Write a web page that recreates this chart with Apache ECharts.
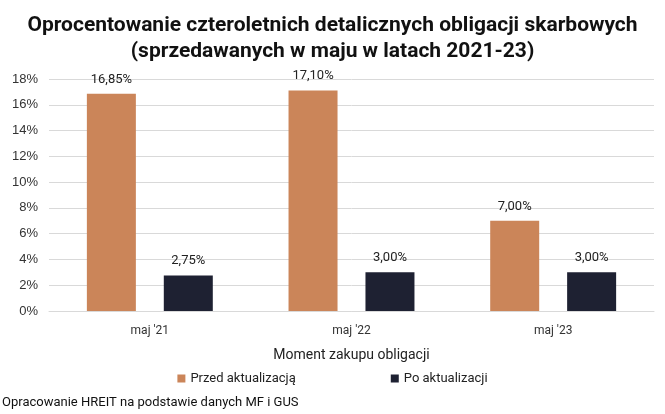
<!DOCTYPE html>
<html><head><meta charset="utf-8">
<script src="https://cdn.jsdelivr.net/npm/echarts@6/dist/echarts.min.js"></script>
<style>html,body{margin:0;padding:0;background:#fff}#c{width:665px;height:414px}</style>
</head><body><div id="c"></div>
<script>
const categories = ["maj '21", "maj '22", "maj '23"];
const przed = [16.85, 17.10, 7.00];
const po = [2.75, 3.00, 3.00];
const yTicks = [0, 2, 4, 6, 8, 10, 12, 14, 16, 18];
const seriesNames = ["Przed aktualizacją", "Po aktualizacji"];

const fmt = v => v.toFixed(2).replace('.', ',') + '%';
const chart = echarts.init(document.getElementById('c'));
const font = 'Roboto';
chart.setOption({
  animation: false,
  textStyle: {fontFamily: font},
  title: {
    text: 'Oprocentowanie czteroletnich detalicznych obligacji skarbowych\n(sprzedawanych w maju w latach 2021-23)',
    left: 'center', top: 8,
    textStyle: {fontFamily: font, fontSize: 21, fontWeight: 'bold', color: '#111', lineHeight: 26}
  },
  grid: {left: 49, right: 11, top: 79, bottom: 103},
  legend: {
    data: seriesNames, top: 367, left: 'center', itemWidth: 8, itemHeight: 8, itemGap: 95,
    icon: 'rect',
    textStyle: {fontFamily: font, fontSize: 13, color: '#222'}
  },
  graphic: [{type: 'text', left: 2, top: 396, style: {text: 'Opracowanie HREIT na podstawie danych MF i GUS', font: '13px Roboto', fill: '#111'}}],
  xAxis: {
    type: 'category', data: categories,
    name: 'Moment zakupu obligacji', nameLocation: 'middle', nameGap: 37,
    nameTextStyle: {fontFamily: font, fontSize: 14, color: '#222'},
    axisLine: {lineStyle: {color: '#d9d9d9'}}, axisTick: {show: false},
    axisLabel: {fontSize: 12, color: '#333', margin: 14}
  },
  yAxis: {
    type: 'value', min: yTicks[0], max: yTicks[yTicks.length-1], interval: 2,
    axisLabel: {formatter: v => v + '%', fontSize: 13, fontFamily: 'Liberation Sans', color: '#333', margin: 11},
    splitLine: {lineStyle: {color: '#d9d9d9'}}
  },
  series: [
    {name: seriesNames[0], type: 'bar', data: przed, barWidth: 49, barGap: '57%', itemStyle: {color: '#CB8559'},
     label: {show: true, position: 'top', formatter: p => fmt(p.value), fontSize: 13, color: '#222', distance: 8}},
    {name: seriesNames[1], type: 'bar', data: po, barWidth: 49, itemStyle: {color: '#1E2132'},
     label: {show: true, position: 'top', formatter: p => fmt(p.value), fontSize: 13, color: '#222', distance: 8}}
  ]
});
</script></body></html>
